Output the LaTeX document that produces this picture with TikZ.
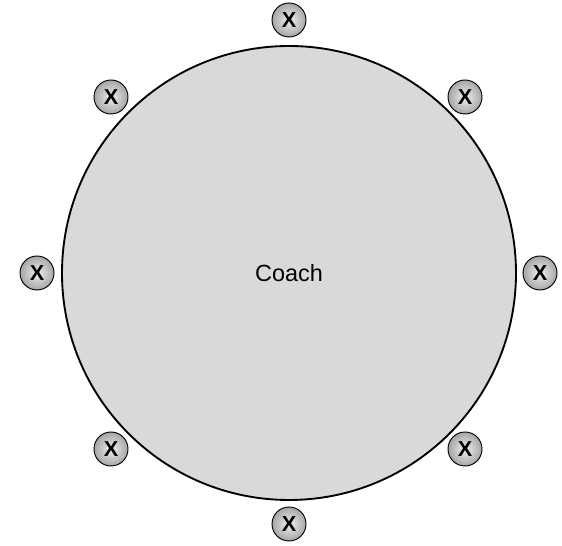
\documentclass[tikz,border=0pt]{standalone}
\usepackage{fontspec}
\setmainfont{Liberation Sans}
\usepackage{tikz}
\usetikzlibrary{shapes.geometric, positioning, calc}
\usepackage{xcolor}

\begin{document}
\begin{tikzpicture}[
    coach/.style = {circle, draw=black, line width=1.6pt, fill=gray!30, minimum size=13.62cm, inner sep=0pt, font=\fontsize{20}{24}\selectfont},
    player/.style = {circle, draw=black, line width=0.8pt, inner color=gray!12, outer color=gray!70, minimum size=1.02cm, inner sep=0pt, font=\fontsize{18.5}{22}\selectfont\bfseries}
]

    % frame of the picture
    \useasboundingbox (0,0) rectangle (16.86,16.38);

    % 1. Coach in the middle
    \node [coach] (coach) at (8.67,8.19) {Coach};

    % 2. Players round the coach
    \node [player] (p_top) at (8.67,15.78) {X};
    \node [player] (p_topright) at (13.95,13.47) {X};
    \node [player] (p_right) at (16.20,8.19) {X};
    \node [player] (p_botright) at (13.95,2.91) {X};
    \node [player] (p_bot) at (8.67,0.66) {X};
    \node [player] (p_botleft) at (3.33,2.91) {X};
    \node [player] (p_left) at (1.11,8.19) {X};
    \node [player] (p_topleft) at (3.33,13.47) {X};

\end{tikzpicture}
\end{document}
